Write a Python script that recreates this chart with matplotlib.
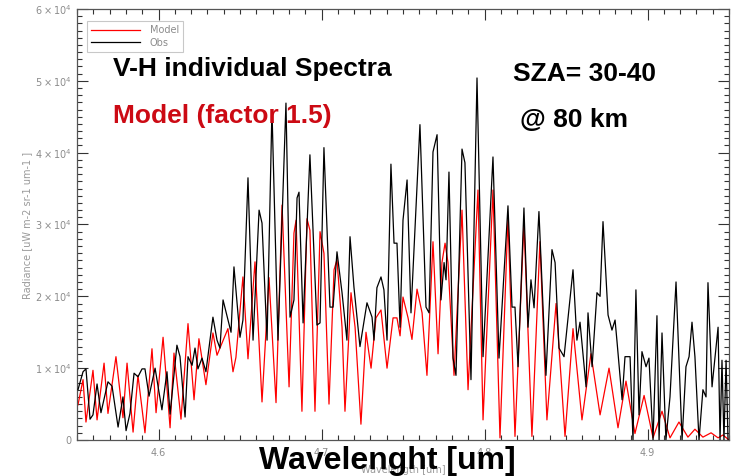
import matplotlib
matplotlib.use("Agg")
import matplotlib.pyplot as plt
import numpy as np
from matplotlib.ticker import MultipleLocator, FixedLocator

# ---- data (radiance in units of 1e4 uW m-2 sr-1 um-1) ----
obs_wl = [4.5506, 4.5537, 4.5555, 4.5580, 4.5598, 4.5623, 4.5647, 4.5690, 4.5715, 4.5752,
          4.5782, 4.5801, 4.5825, 4.5850, 4.5874, 4.5899, 4.5917, 4.5942, 4.5979, 4.6021,
          4.6052, 4.6071, 4.6113, 4.6132, 4.6163, 4.6181, 4.6206, 4.6224, 4.6242, 4.6267,
          4.6291, 4.6334, 4.6359, 4.6377, 4.6396, 4.6445, 4.6463, 4.6500, 4.6518, 4.6549,
          4.6580, 4.6617, 4.6635, 4.6666, 4.6696, 4.6733, 4.6782, 4.6807, 4.6831, 4.6850,
          4.6862, 4.6887, 4.6929, 4.6972, 4.6991, 4.7015, 4.7052, 4.7071, 4.7095, 4.7126,
          4.7156, 4.7175, 4.7199, 4.7236, 4.7279, 4.7310, 4.7322, 4.7340, 4.7365, 4.7383,
          4.7402, 4.7426, 4.7445, 4.7463, 4.7482, 4.7500, 4.7525, 4.7549, 4.7604, 4.7641,
          4.7660, 4.7684, 4.7709, 4.7733, 4.7752, 4.7764, 4.7782, 4.7807, 4.7825, 4.7862,
          4.7880, 4.7917, 4.7954, 4.7991, 4.8052, 4.8089, 4.8144, 4.8169, 4.8187, 4.8206,
          4.8242, 4.8267, 4.8285, 4.8304, 4.8334, 4.8377, 4.8414, 4.8433, 4.8457, 4.8488,
          4.8543, 4.8567, 4.8586, 4.8623, 4.8635, 4.8660, 4.8690, 4.8709, 4.8727, 4.8758,
          4.8782, 4.8801, 4.8813, 4.8844, 4.8862, 4.8893, 4.8911, 4.8929, 4.8948, 4.8966,
          4.8991, 4.9009, 4.9034, 4.9058, 4.9071, 4.9089, 4.9113, 4.9138, 4.9175, 4.9212,
          4.9236, 4.9255, 4.9273, 4.9291, 4.9316, 4.9340, 4.9359, 4.9371, 4.9396, 4.9402,
          4.9433, 4.9445, 4.9457, 4.9469, 4.9482, 4.9494]
obs_rad = [0.70, 0.95, 0.99, 0.29, 0.35, 0.78, 0.38, 0.81, 0.75, 0.18,
           0.60, 0.13, 0.37, 0.93, 0.88, 0.99, 0.99, 0.61, 1.00, 0.42,
           0.95, 0.36, 1.32, 1.16, 0.32, 1.16, 1.04, 1.28, 0.99, 1.14,
           0.95, 1.71, 1.39, 1.28, 1.95, 1.50, 2.41, 1.43, 1.67, 3.65,
           1.39, 3.20, 3.02, 1.39, 4.60, 1.39, 4.69, 1.71, 1.95, 3.37,
           3.45, 1.63, 3.97, 1.60, 1.63, 4.07, 1.85, 1.85, 2.62, 2.05,
           1.39, 2.83, 2.13, 1.30, 1.91, 1.71, 1.39, 2.12, 2.27, 2.09,
           1.39, 3.84, 2.74, 2.74, 1.57, 3.06, 3.62, 1.77, 4.39, 1.85,
           1.77, 4.01, 4.25, 1.95, 2.47, 2.23, 3.73, 1.14, 0.90, 4.05,
           3.86, 0.84, 5.04, 1.16, 3.94, 1.14, 3.26, 1.85, 1.85, 1.02,
           3.23, 1.57, 2.23, 1.84, 3.18, 0.90, 2.65, 2.47, 1.28, 1.16,
           2.37, 1.39, 1.64, 0.74, 1.77, 1.02, 2.05, 2.00, 3.04, 1.74,
           1.53, 1.67, 1.37, 0.56, 1.16, 1.16, 0.00, 2.09, 0.35, 1.23,
           1.02, 1.14, 0.00, 1.73, 0.00, 1.49, 0.00, 0.60, 2.20, 0.00,
           1.02, 1.16, 1.64, 1.16, 0.00, 0.70, 0.60, 2.19, 0.74, 0.88,
           1.57, 0.00, 1.11, 0.00, 1.11, 0.00]

model_wl = [4.5506, 4.5537, 4.5555, 4.5598, 4.5623, 4.5666, 4.5690, 4.5739, 4.5782, 4.5807,
            4.5844, 4.5874, 4.5917, 4.5960, 4.5985, 4.6028, 4.6071, 4.6095, 4.6138, 4.6181,
            4.6218, 4.6248, 4.6291, 4.6334, 4.6359, 4.6426, 4.6457, 4.6475, 4.6518, 4.6549,
            4.6592, 4.6635, 4.6678, 4.6721, 4.6758, 4.6801, 4.6831, 4.6844, 4.6880, 4.6911,
            4.6929, 4.6960, 4.6991, 4.7015, 4.7046, 4.7077, 4.7095, 4.7126, 4.7144, 4.7181,
            4.7206, 4.7242, 4.7273, 4.7304, 4.7334, 4.7365, 4.7402, 4.7439, 4.7463, 4.7482,
            4.7500, 4.7531, 4.7555, 4.7586, 4.7617, 4.7647, 4.7684, 4.7715, 4.7739, 4.7758,
            4.7776, 4.7813, 4.7862, 4.7899, 4.7960, 4.7991, 4.8052, 4.8095, 4.8144, 4.8187,
            4.8242, 4.8291, 4.8340, 4.8383, 4.8439, 4.8494, 4.8543, 4.8598, 4.8653, 4.8709,
            4.8764, 4.8819, 4.8868, 4.8923, 4.8979, 4.9034, 4.9089, 4.9138, 4.9193, 4.9248,
            4.9291, 4.9340, 4.9390, 4.9433, 4.9463, 4.9500]
model_rad = [0.49, 0.84, 0.25, 0.97, 0.28, 1.07, 0.37, 1.16, 0.31, 1.07,
             0.11, 0.90, 0.10, 1.27, 0.38, 1.43, 0.17, 1.21, 0.29, 1.62,
             0.56, 1.41, 0.77, 1.49, 1.18, 1.55, 0.95, 1.15, 2.27, 1.13,
             2.48, 0.53, 2.26, 0.52, 3.27, 0.74, 2.88, 3.06, 0.40, 3.08,
             2.92, 0.40, 2.90, 2.60, 0.50, 2.37, 2.51, 1.57, 0.40, 2.05,
             1.57, 0.22, 1.50, 1.00, 1.70, 1.81, 1.00, 1.70, 1.70, 1.45,
             1.99, 1.70, 1.40, 2.10, 1.77, 0.90, 2.76, 1.20, 2.47, 2.74,
             2.47, 0.90, 3.20, 0.70, 3.48, 0.28, 3.48, 0.03, 3.10, 0.05,
             3.02, 0.05, 2.76, 0.28, 1.90, 0.05, 1.55, 0.28, 1.20, 0.35,
             1.00, 0.17, 0.82, 0.09, 0.62, 0.03, 0.40, 0.03, 0.25, 0.04,
             0.15, 0.04, 0.10, 0.03, 0.07, 0.00]

xticks = [4.6, 4.7, 4.8, 4.9]
yticks = [0, 1e4, 2e4, 3e4, 4e4, 5e4, 6e4]
ytick_labels = ['0', r'$1\times10^{4}$', r'$2\times10^{4}$', r'$3\times10^{4}$',
                r'$4\times10^{4}$', r'$5\times10^{4}$', r'$6\times10^{4}$']

W, H = 734, 476
fig = plt.figure(figsize=(W / 100, H / 100), dpi=100)
L, R, T, B = 77, 729, 9, 440
ax = fig.add_axes([L / W, 1 - B / H, (R - L) / W, (B - T) / H])

scale = 1e4
ax.plot(model_wl, np.array(model_rad) * scale, color='#ff0000', lw=0.9, label='Model', zorder=2)
ax.plot(obs_wl, np.array(obs_rad) * scale, color='black', lw=0.9, label='Obs', zorder=3)

ax.set_xlim(4.55, 4.95)
ax.set_ylim(0, 6e4)
ax.xaxis.set_major_locator(FixedLocator(xticks))
ax.xaxis.set_minor_locator(MultipleLocator(0.01))
ax.yaxis.set_major_locator(FixedLocator(yticks))
ax.yaxis.set_minor_locator(MultipleLocator(1000))
ax.set_xticklabels([str(t) for t in xticks])
ax.set_yticklabels(ytick_labels)
ax.tick_params(which='both', direction='in', top=True, right=True,
               colors='#333333', labelcolor='#8c8c8c', labelsize=7, width=0.8)
ax.tick_params(which='major', length=8)
ax.tick_params(which='minor', length=3.5)
ax.tick_params(axis='x', pad=6)
ax.tick_params(axis='y', pad=4)
for s in ax.spines.values():
    s.set_color('#555555')
    s.set_linewidth(0.9)

leg = ax.legend(loc='upper left', bbox_to_anchor=(0.0153, 0.972), borderaxespad=0,
                fontsize=7, frameon=True, fancybox=False, edgecolor='#bbbbbb',
                handlelength=5.0, labelspacing=0.25, borderpad=0.45, handletextpad=1.0)
leg.get_frame().set_linewidth(0.8)
for t in leg.get_texts():
    t.set_color('#8c8c8c')

fig.text(27 / W, 1 - 225 / H, 'Radiance [uW m-2 sr-1 um-1 ]', rotation=90,
         color='#9a9a9a', fontsize=7, ha='center', va='center')
fig.text(403 / W, 1 - 470 / H, 'Wavelength [um]', color='#9a9a9a', fontsize=7,
         ha='center', va='center')

big = dict(family='Liberation Sans', fontweight='bold')
fig.text(113 / W, 1 - 76 / H, 'V-H individual Spectra', fontsize=19, color='black',
         va='baseline', ha='left', **big)
fig.text(113 / W, 1 - 123 / H, 'Model (factor 1.5)', fontsize=19, color='#cc0a14',
         va='baseline', ha='left', **big)
fig.text(513 / W, 1 - 81 / H, 'SZA= 30-40', fontsize=19, color='black',
         va='baseline', ha='left', **big)
fig.text(520 / W, 1 - 127 / H, '@ 80 km', fontsize=19, color='black',
         va='baseline', ha='left', **big)
fig.text(387 / W, 1 - 469 / H, 'Wavelenght [um]', fontsize=23, color='black',
         va='baseline', ha='center', zorder=10, **big)

fig.savefig('out.png', dpi=100, facecolor='white')
